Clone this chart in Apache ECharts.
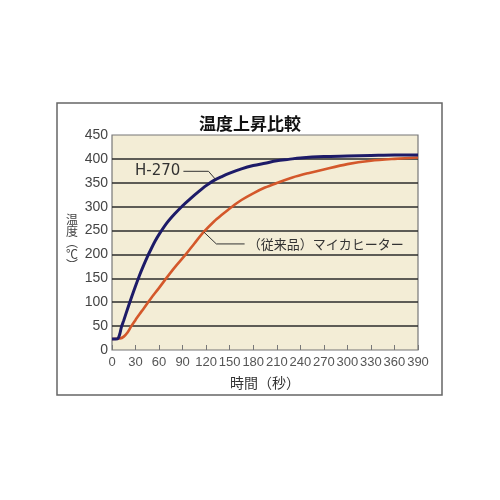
<!DOCTYPE html>
<html>
<head>
<meta charset="utf-8">
<script src="https://cdn.jsdelivr.net/npm/echarts@6/dist/echarts.min.js"></script>
<style>
html,body{margin:0;padding:0;background:#fff;}
#c{width:500px;height:500px;}
</style>
</head>
<body>
<div id="c"></div>
<script>
// ---- data ----
var titleText = '温度上昇比較';
var xName = '時間（秒）';
var yNameChars = ['温', '度', '︵', '℃', '︶'];
var xTicks = [0, 30, 60, 90, 120, 150, 180, 210, 240, 270, 300, 330, 360, 390];
var yTicks = [0, 50, 100, 150, 200, 250, 300, 350, 400, 450];

var blueName = 'H-270';
var blueT = [0, 5, 8, 10, 12, 15, 20, 25, 30, 35, 40, 45, 50, 55, 60, 70, 80, 90, 100, 110, 120, 130, 140, 150, 165, 180, 195, 210, 225, 240, 270, 300, 330, 360, 390];
var blueV = [23, 23, 25, 34, 48, 62, 87, 111, 134, 156, 176, 195, 212, 228, 242, 266, 285, 302, 317, 331, 344, 355, 363, 370, 379, 386, 391, 396, 399, 402, 405, 406, 407, 408, 408];

var orangeName = '（従来品）マイカヒーター';
var orangeT = [0, 10, 15, 20, 25, 30, 35, 40, 46, 50, 60, 70, 80, 94, 105, 117, 130, 140, 153, 165, 180, 195, 211, 230, 250, 270, 300, 330, 360, 390];
var orangeV = [23, 24, 28, 37, 51, 63, 75, 86, 100, 109, 130, 152, 173, 200, 223, 247, 269, 283, 300, 314, 328, 340, 350, 361, 370, 378, 389, 396, 400, 403];

// leader lines for annotations (data coordinates: time, temperature)
var blueLeaderT = [91, 123, 132];
var blueLeaderV = [374, 374, 357];
var orangeLeaderT = [169, 133, 117];
var orangeLeaderV = [222, 222, 247];

function pairs(t, v) { return t.map(function (x, i) { return [x, v[i]]; }); }

function leaderData(t, v, text, pos) {
  var d = pairs(t, v);
  d[0] = {
    value: d[0],
    label: {
      show: true, position: pos, distance: 3, formatter: text,
      color: '#333', fontSize: pos === 'left' ? 15 : 13,
      fontFamily: pos === 'left' ? 'DejaVu Sans, sans-serif' : 'Noto Sans CJK JP, sans-serif'
    }
  };
  return d;
}

var chart = echarts.init(document.getElementById('c'), null, { renderer: 'canvas' });
chart.setOption({
  animation: false,
  backgroundColor: '#ffffff',
  title: {
    text: titleText, left: 'center', top: 110,
    textStyle: { fontSize: 17, fontWeight: 'bold', color: '#111', fontFamily: 'Noto Sans CJK JP, sans-serif' }
  },
  graphic: [{
    type: 'rect', shape: { x: 57, y: 103, width: 385, height: 292 },
    style: { fill: null, stroke: '#666', lineWidth: 1.5 }, silent: true, z: -1
  }],
  grid: {
    left: 112, right: 82, top: 135, bottom: 150,
    show: true, backgroundColor: '#f3edd6', borderColor: '#777', borderWidth: 1.2
  },
  xAxis: {
    type: 'value', min: xTicks[0], max: xTicks[xTicks.length - 1], interval: 30,
    name: xName, nameLocation: 'middle', nameGap: 26,
    nameTextStyle: { fontSize: 14, color: '#333', fontFamily: 'Noto Sans CJK JP, sans-serif' },
    axisLine: { show: false },
    axisTick: { show: true, inside: true, length: 5, lineStyle: { color: '#777', width: 1 } },
    axisLabel: {
      margin: 6, fontSize: 13, color: '#555',
      fontFamily: 'Liberation Sans, Arial, sans-serif',
      showMinLabel: true, showMaxLabel: true, hideOverlap: false
    },
    splitLine: { show: false }
  },
  yAxis: {
    type: 'value', min: yTicks[0], max: yTicks[yTicks.length - 1], interval: 50,
    name: yNameChars.join('\n'), nameLocation: 'middle', nameRotate: 0, nameGap: 40,
    nameTextStyle: { fontSize: 12, lineHeight: 11.5, color: '#444', fontFamily: 'Noto Sans CJK JP, sans-serif', align: 'center', padding: [0, 0, 12, 0] },
    axisLine: { show: false },
    axisTick: { show: false },
    axisLabel: { margin: 4, fontSize: 14, color: '#444', fontFamily: 'Liberation Sans, Arial, sans-serif' },
    splitLine: { show: true, showMinLine: false, showMaxLine: false, lineStyle: { color: '#2b2b2b', width: 1.5 } }
  },
  series: [
    {
      type: 'line', name: orangeName, data: pairs(orangeT, orangeV),
      smooth: 0.3, showSymbol: false, silent: true,
      lineStyle: { color: '#d4582b', width: 2.6 }, z: 3
    },
    {
      type: 'line', name: blueName, data: pairs(blueT, blueV),
      smooth: 0.3, showSymbol: false, silent: true,
      lineStyle: { color: '#1d1b68', width: 3 }, z: 4
    },
    {
      type: 'line', data: leaderData(blueLeaderT, blueLeaderV, blueName, 'left'),
      symbol: 'circle', symbolSize: 0.1, showSymbol: true, silent: true,
      itemStyle: { color: 'rgba(0,0,0,0)' },
      lineStyle: { color: '#333', width: 1 }, z: 5
    },
    {
      type: 'line', data: leaderData(orangeLeaderT, orangeLeaderV, orangeName, 'right'),
      symbol: 'circle', symbolSize: 0.1, showSymbol: true, silent: true,
      itemStyle: { color: 'rgba(0,0,0,0)' },
      lineStyle: { color: '#333', width: 1 }, z: 5
    }
  ]
});
</script>
</body>
</html>
